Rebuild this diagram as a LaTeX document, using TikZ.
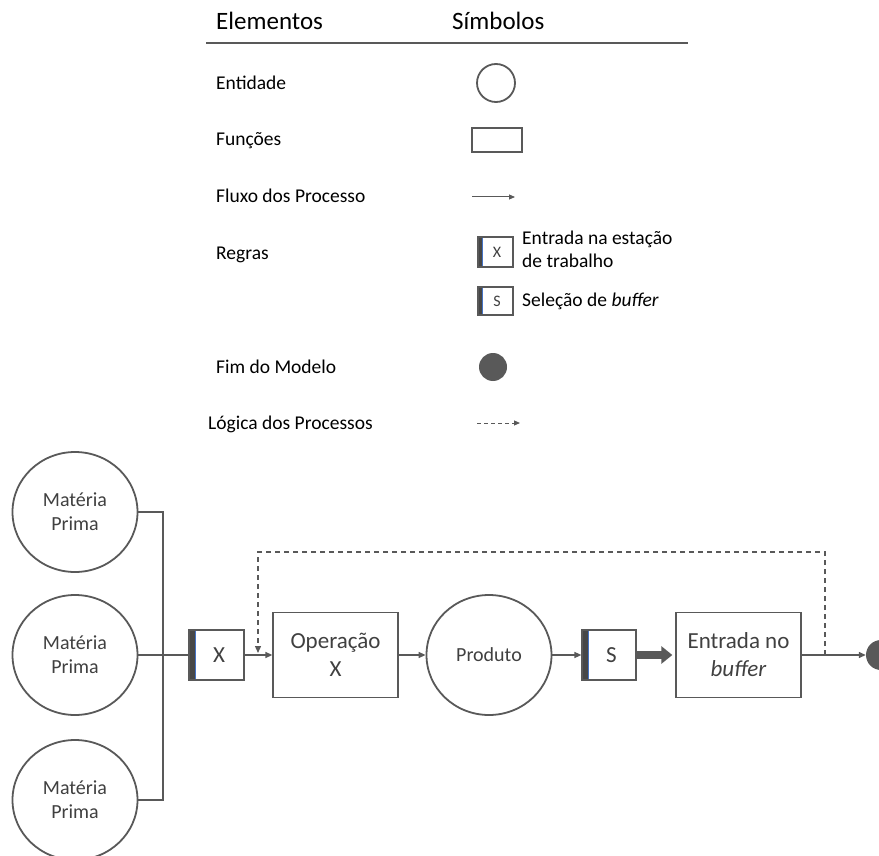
\documentclass[tikz,border=0pt]{standalone}
\usepackage{fontspec}
\setmainfont{Carlito}
\usetikzlibrary{arrows.meta,shapes.geometric,calc}
\definecolor{linegray}{HTML}{595959}
\definecolor{txtgray}{HTML}{404040}
\definecolor{barfill}{HTML}{474747}
\definecolor{barblue}{HTML}{4472C4}
\tikzset{
  flow/.style={draw=linegray,line width=1.3pt,-{Triangle[length=7pt,width=6pt]}},
  plain/.style={draw=linegray,line width=1.3pt},
  logic/.style={draw=linegray,line width=1.3pt,dash pattern=on 5pt off 4pt,-{Triangle[length=7pt,width=6pt]}},
  entity/.style={ellipse,draw=linegray,line width=1.8pt,minimum width=125pt,minimum height=120pt,inner sep=0pt,
    text=txtgray,align=center,font=\fontsize{20}{24}\selectfont},
  func/.style={rectangle,draw=linegray,line width=1.3pt,minimum width=125pt,minimum height=85pt,inner sep=0pt,
    text=txtgray,align=center,font=\fontsize{23}{28}\selectfont},
  rulebox/.style={rectangle,draw=linegray,line width=1.2pt,inner sep=0pt,text=txtgray,
    path picture={
      \fill[barfill,draw=barblue,line width=0.6pt]
        (path picture bounding box.south west) rectangle
        ([xshift=#1]path picture bounding box.north west);}},
  legtext/.style={anchor=base west,inner sep=0pt,text=black,font=\fontsize{19.5}{23}\selectfont},
  headtext/.style={anchor=base west,inner sep=0pt,text=black,font=\fontsize{25}{30}\selectfont},
}
\begin{document}
\begin{tikzpicture}[x=1pt,y=-1pt]
\useasboundingbox (0,0) rectangle (879,856);

% ---- legend ----
\node[headtext] (hElem) at (216,30) {Elementos};
\node[headtext] (hSimb) at (452,30) {Símbolos};
\coordinate (ruleL) at (206,43);
\coordinate (ruleR) at (688,43);
\draw[linegray,line width=1.2pt] (ruleL) -- (ruleR);

\node[legtext] (lEnt) at (216,90) {Entidade};
\node[circle,draw=linegray,line width=1.8pt,minimum size=38pt,inner sep=0pt] (sEnt) at (496,83) {};

\node[legtext] (lFun) at (216,146) {Funções};
\node[rectangle,draw=linegray,line width=1.2pt,minimum width=50pt,minimum height=24pt,inner sep=0pt] (sFun) at (497,140) {};

\node[legtext] (lFlx) at (216,203) {Fluxo dos Processo};
\coordinate (sFlxA) at (472,197);
\coordinate (sFlxB) at (515,197);
\draw[flow,line width=1pt,-{Triangle[length=6pt,width=5pt]}] (sFlxA) -- (sFlxB);

\node[legtext] (lReg) at (216,259) {Regras};
\node[rulebox=4pt,minimum width=35pt,minimum height=30pt,font=\fontsize{16}{19}\selectfont] (sRX) at (495.5,252) {\hspace*{3pt}X};
\node[legtext,align=left,anchor=north west] (tRX) at (522,231) {Entrada na estação\\de trabalho};
\node[rulebox=4pt,minimum width=35pt,minimum height=28pt,font=\fontsize{16}{19}\selectfont] (sRS) at (495.5,301) {\hspace*{3pt}S};
\node[legtext] (tRS) at (522,306) {Seleção de \textit{buffer}};

\node[legtext] (lFim) at (216,373) {Fim do Modelo};
\node[circle,fill=linegray,minimum size=28pt,inner sep=0pt] (sFim) at (493,367) {};

\node[legtext] (lLog) at (208,429) {Lógica dos Processos};
\coordinate (sLogA) at (477,423);
\coordinate (sLogB) at (520,423);
\draw[logic,line width=1pt,dash pattern=on 4pt off 3pt,-{Triangle[length=6pt,width=5pt]}] (sLogA) -- (sLogB);

% ---- process model ----
\node[entity] (m1) at (75,512) {Matéria\\Prima};
\node[entity] (m2) at (75,655) {Matéria\\Prima};
\node[entity] (m3) at (75,800) {Matéria\\Prima};

\node[rulebox=6pt,minimum width=55pt,minimum height=50pt,font=\fontsize{23}{28}\selectfont] (rx) at (216.5,655) {\hspace*{5pt}X};
\node[func] (op) at (335.5,655) {Operação\\X};
\node[entity] (prod) at (489,655) {Produto};
\node[rulebox=6pt,minimum width=54pt,minimum height=50pt,font=\fontsize{23}{28}\selectfont] (rs) at (609,655) {\hspace*{5pt}S};
\node[func] (buf) at (738.5,655) {Entrada no\\\textit{buffer}};
\node[circle,fill=linegray,minimum size=30pt,inner sep=0pt] (fim) at (881,655) {};

% raw material collector
\coordinate (busT) at (163,512);
\coordinate (busB) at (163,800);
\draw[plain] (m1.east) -- (busT) -- (busB) -- (m3.east);
\draw[plain] (m2.east) -- (rx.west);

% process flow
\draw[flow] (rx.east) -- (op.west);
\draw[flow] (op.east) -- (prod.west);
\draw[flow] (prod.east) -- (rs.west);
\draw[draw=linegray,line width=8pt,-{Triangle[length=11pt,width=17pt]}] (rs.east) -- ([xshift=-3pt]buf.west);
\draw[flow] (buf.east) -- (fim.west);

% process logic feedback
\coordinate (fbR) at (825,655);
\coordinate (fbTop) at (0,552);
\coordinate (fbL) at (258,653);
\draw[logic] (fbR) -- (fbR |- fbTop) -- (fbL |- fbTop) -- (fbL);
\end{tikzpicture}
\end{document}
